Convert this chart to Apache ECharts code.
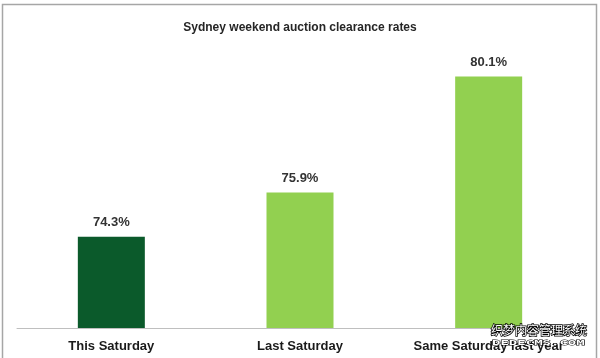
<!DOCTYPE html>
<html><head><meta charset="utf-8">
<script src="https://cdn.jsdelivr.net/npm/echarts@6/dist/echarts.min.js"></script>
<style>html,body{margin:0;padding:0;background:#fff}#c{width:600px;height:358px}</style>
</head><body><div id="c"></div>
<script>
const categories = ["This Saturday", "Last Saturday", "Same Saturday last year"];
const values = [74.3, 75.9, 80.1];
const barColors = ["#0b5a2b", "#92d050", "#92d050"];
const titleText = "Sydney weekend auction clearance rates";

const chart = echarts.init(document.getElementById('c'), null, {renderer: 'canvas'});
chart.setOption({
  animation: false,
  backgroundColor: '#fff',
  title: {
    text: titleText, left: 'center', top: 17,
    textStyle: {fontFamily: 'Liberation Sans', fontWeight: 'bold', fontSize: 12, color: '#262626'}
  },
  grid: {left: 17, right: 17, top: 24, bottom: 30},
  xAxis: {
    type: 'category', data: categories,
    axisLine: {lineStyle: {color: '#bfbfbf', width: 1}},
    axisTick: {show: false},
    axisLabel: {interval: 0, hideOverlap: false, margin: 12, fontFamily: 'Liberation Sans', fontWeight: 'bold', fontSize: 13, color: '#1a1a1a'}
  },
  yAxis: {
    type: 'value', min: 71, max: 82, show: false,
    splitLine: {show: false}
  },
  series: [{
    type: 'bar', barWidth: 67,
    data: values.map((v, i) => ({value: v, itemStyle: {color: barColors[i]}})),
    label: {
      show: true, position: 'top', distance: 8,
      formatter: p => p.value.toFixed(1) + '%',
      fontFamily: 'Liberation Sans', fontWeight: 'bold', fontSize: 13, color: '#333'
    }
  }],
  graphic: [
    {type: 'rect', shape: {x: 2.5, y: 4.5, width: 594, height: 360},
     style: {fill: null, stroke: '#a6a6a6', lineWidth: 1.5}},
    {type: 'text', x: 491, y: 324, z: 100,
     style: {text: '织梦内容管理系统', fontFamily: 'Noto Sans CJK SC', fontSize: 12, fill: '#fff', stroke: '#000', lineWidth: 1.5}},
    {type: 'text', x: 492, y: 339, scaleY: 0.55, z: 100,
     style: {text: 'DEDECMS.COM', fontFamily: 'DejaVu Sans Mono', fontSize: 14, fontWeight: 'bold', fill: '#fff', stroke: '#000', lineWidth: 1.5}}
  ]
});
</script></body></html>
